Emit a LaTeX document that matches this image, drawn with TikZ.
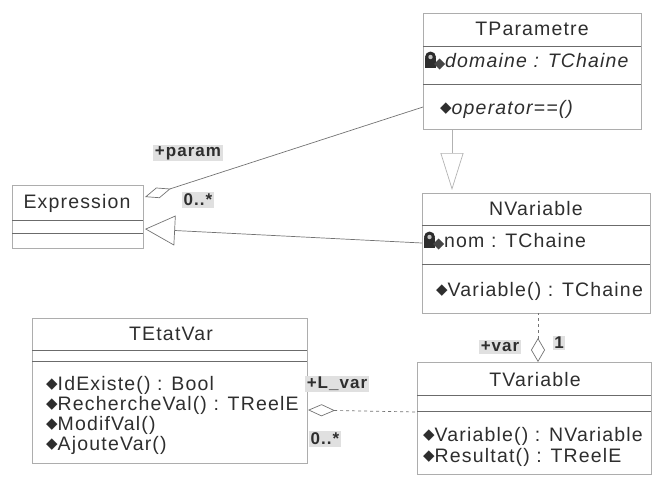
\documentclass[tikz,border=0pt]{standalone}
\usepackage{fontspec}
\setmainfont{Liberation Sans}[LetterSpace=6]
\newfontfamily\symfont{DejaVu Sans}
\usetikzlibrary{arrows.meta}
\definecolor{bord}{gray}{0.68}
\definecolor{divc}{gray}{0.42}
\definecolor{txtc}{gray}{0.18}
\definecolor{conc}{gray}{0.45}
\definecolor{lblbg}{gray}{0.88}
\newcommand\clsf{\fontsize{19.5}{21}\selectfont}
\newcommand\lblf{\fontsize{17}{19}\selectfont\bfseries}
\newcommand\opd{{\symfont\fontsize{15}{15}\selectfont\raisebox{1.5pt}{◆}}}
\begin{document}
\begin{tikzpicture}[x=1pt,y=-1pt,
  box/.style={draw=bord, line width=0.8pt, rectangle, inner sep=0pt, anchor=north west},
  div/.style={draw=divc, line width=1pt},
  txt/.style={inner sep=0pt, text=txtc, font=\clsf},
  lbl/.style={inner sep=1.5pt, fill=lblbg, text=txtc, font=\lblf},
  conn/.style={draw=conc, line width=0.7pt},
  prot/.pic={
    \fill[gray!35!black] (-9,-3) rectangle (2,7);
    \fill[gray!35!black] (-3.5,-4) circle (5.5);
    \fill[gray!45] (-3.5,-4) circle (2.2);
    \fill[gray!55!black] (0,3) -- (5.5,-2.5) -- (11,3) -- (5.5,8.5) -- cycle;
  }]
\useasboundingbox (0,0) rectangle (652,488);

% TParametre
\node[box, minimum width=218pt, minimum height=116pt] (tp) at (423,13) {};
\node[txt] (tpn) at (532,29) {TParametre};
\draw[div] (423,46) -- (641,46);
\pic at (434,61) {prot};
\node[txt, anchor=west] (tpa) at (445,61) {\itshape domaine : TChaine};
\draw[div] (423,84) -- (641,84);
\node[txt, anchor=west] (tpo) at (440,109) {\opd\itshape operator==()};

% NVariable
\node[box, minimum width=228pt, minimum height=120pt] (nv) at (422,193) {};
\node[txt] (nvn) at (536,209) {NVariable};
\draw[div] (422,225) -- (650,225);
\pic at (433,241) {prot};
\node[txt, anchor=west] (nva) at (444,241) {nom : TChaine};
\draw[div] (422,264) -- (650,264);
\node[txt, anchor=west] (nvo) at (436,291) {\opd Variable() : TChaine};

% Expression
\node[box, minimum width=131pt, minimum height=63pt] (ex) at (12,185) {};
\node[txt] (exn) at (77,203) {Expression};
\draw[div] (12,220) -- (143,220);
\draw[div] (12,233) -- (143,233);

% TEtatVar
\node[box, minimum width=275pt, minimum height=145pt] (te) at (32,318) {};
\node[txt] (ten) at (171,334) {TEtatVar};
\draw[div] (32,350) -- (307,350);
\draw[div] (32,361) -- (307,361);
\node[txt, anchor=west] (te1) at (46,385) {\opd IdExiste() : Bool};
\node[txt, anchor=west] (te2) at (46,405) {\opd RechercheVal() : TReelE};
\node[txt, anchor=west] (te3) at (46,425) {\opd ModifVal()};
\node[txt, anchor=west] (te4) at (46,445) {\opd AjouteVar()};

% TVariable
\node[box, minimum width=234pt, minimum height=112pt] (tv) at (417,362) {};
\node[txt] (tvn) at (535,380) {TVariable};
\draw[div] (417,395) -- (651,395);
\draw[div] (417,411) -- (651,411);
\node[txt, anchor=west] (tv1) at (423,436) {\opd Variable() : NVariable};
\node[txt, anchor=west] (tv2) at (423,457) {\opd Resultat() : TReelE};

% connector end points
\coordinate (exA) at (145,197);
\coordinate (tpA) at (423,107);
\coordinate (exG) at (145,229);
\coordinate (nvG) at (422,243);
\coordinate (tpB) at (452,130);
\coordinate (nvB) at (452,190);
\coordinate (nvC) at (538,313);
\coordinate (tvC) at (538,362);
\coordinate (teD) at (308,410);
\coordinate (tvD) at (417,412);

\draw[conn, {Diamond[open,length=27pt,width=11pt]}-] (exA) -- (tpA);
\draw[conn, -{Triangle[open,length=30pt,width=30pt]}] (nvG) -- (exG);
\draw[conn, draw=gray!60, -{Triangle[open,length=37pt,width=23pt]}] (tpB) -- (nvB);
\draw[conn, dashed, {Diamond[open,length=24pt,width=14pt]}-] (tvC) -- (nvC);
\draw[conn, dashed, {Diamond[open,length=27pt,width=12pt]}-] (teD) -- (tvD);

% role labels
\node[lbl] (l1) at (188,153) {+param};
\node[lbl] (l2) at (198,200) {0..*};
\node[lbl] (l3) at (500,347) {+var};
\node[lbl] (l4) at (559,343) {1};
\node[lbl] (l5) at (337,384) {+L\_var};
\node[lbl] (l6) at (325,439) {0..*};
\end{tikzpicture}
\end{document}
